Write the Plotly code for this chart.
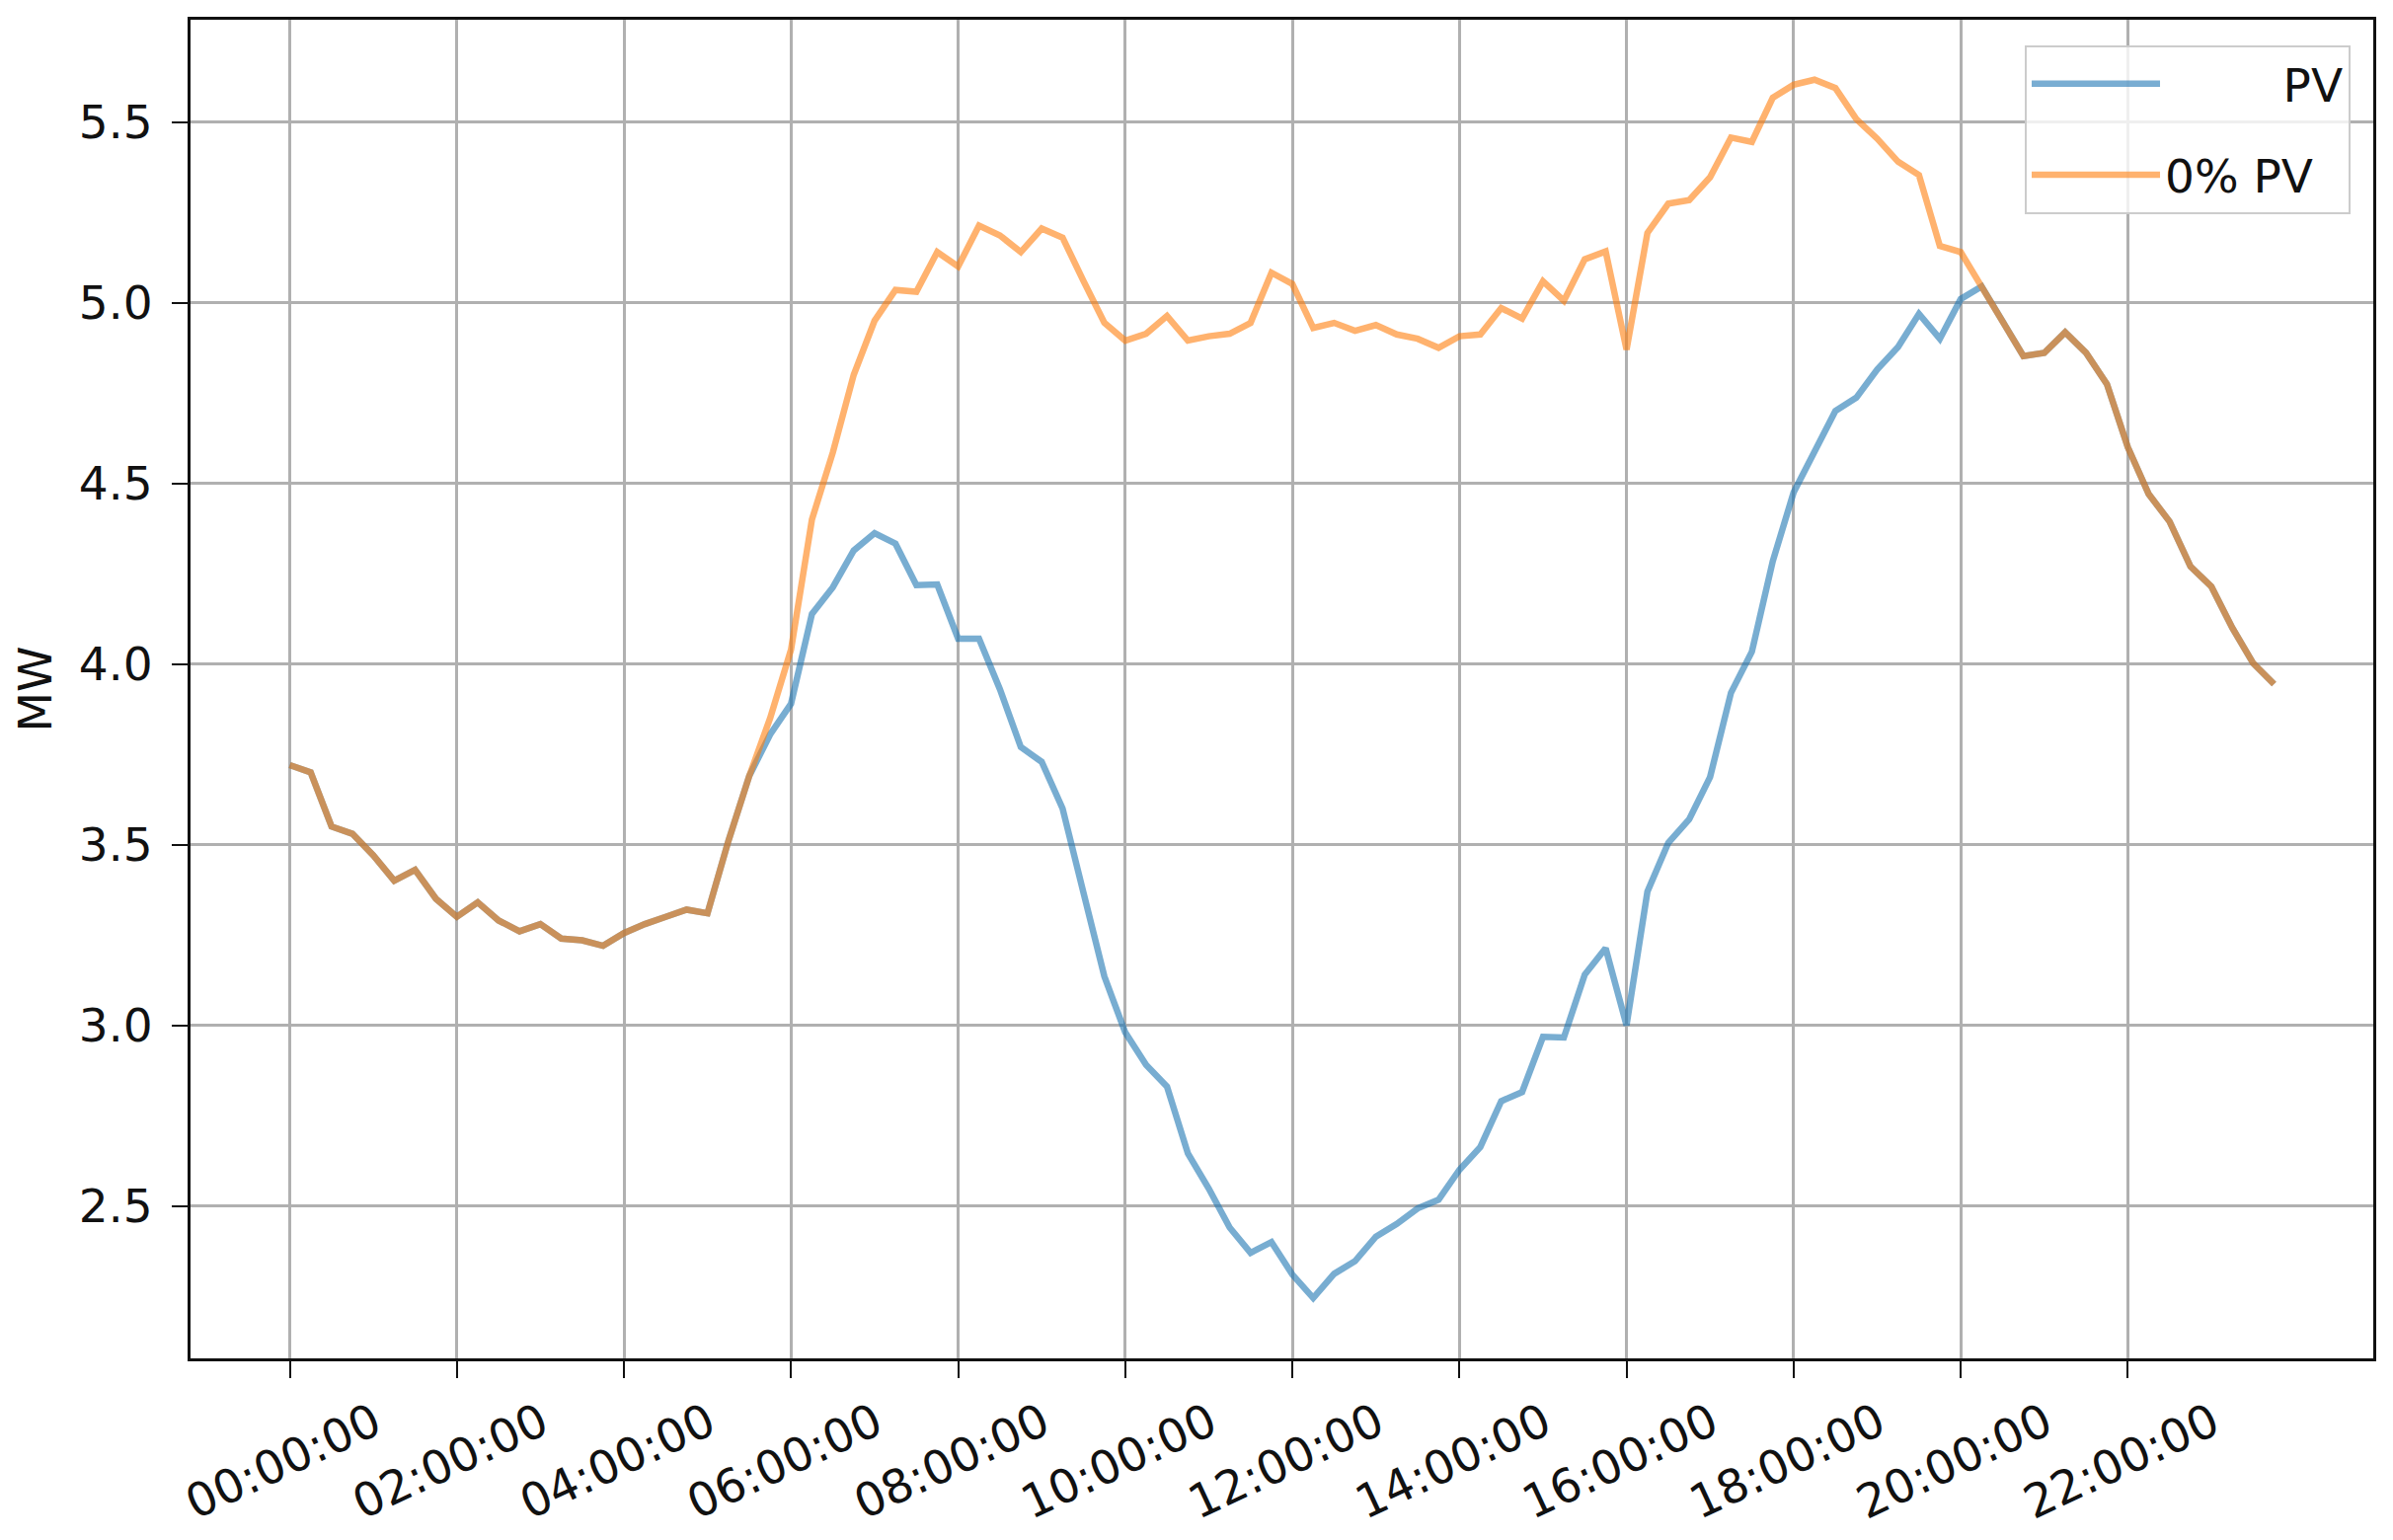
import plotly.graph_objects as go

# 15-minute time stamps over one day
times = [f"{h:02d}:{m:02d}:00" for h in range(24) for m in (0, 15, 30, 45)]

# Load with PV (MW)
pv_load = [
    3.72, 3.70, 3.55, 3.53, 3.47, 3.40, 3.43, 3.35, 3.30, 3.34, 3.29, 3.26,
    3.28, 3.24, 3.235, 3.22, 3.255, 3.28, 3.30, 3.32, 3.31, 3.51, 3.69, 3.805,
    3.89, 4.138, 4.212, 4.314, 4.362, 4.333, 4.218, 4.22, 4.07, 4.07, 3.93, 3.77,
    3.729, 3.60, 3.367, 3.135, 2.98, 2.89, 2.83, 2.645, 2.548, 2.44, 2.37, 2.40,
    2.31, 2.245, 2.312, 2.347, 2.415, 2.45, 2.493, 2.517, 2.60, 2.663, 2.79, 2.815,
    2.968, 2.966, 3.14, 3.213, 3.00, 3.37, 3.505, 3.57, 3.687, 3.92, 4.034, 4.284,
    4.475, 4.59, 4.70, 4.737, 4.815, 4.877, 4.969, 4.90, 5.01, 5.045, 4.951, 4.852,
    4.861, 4.918, 4.861, 4.774, 4.60, 4.47, 4.394, 4.27, 4.214, 4.10, 4.002, 3.944,
]

# Load with 0% PV (MW)
nopv_load = [
    3.72, 3.70, 3.55, 3.53, 3.47, 3.40, 3.43, 3.35, 3.30, 3.34, 3.29, 3.26,
    3.28, 3.24, 3.235, 3.22, 3.255, 3.28, 3.30, 3.32, 3.31, 3.51, 3.69, 3.85,
    4.04, 4.40, 4.585, 4.80, 4.95, 5.035, 5.03, 5.14, 5.10, 5.213, 5.186, 5.14,
    5.205, 5.18, 5.06, 4.944, 4.895, 4.914, 4.963, 4.895, 4.907, 4.914, 4.944, 5.083,
    5.052, 4.93, 4.944, 4.922, 4.938, 4.912, 4.90, 4.875, 4.907, 4.912, 4.985, 4.956,
    5.059, 5.005, 5.12, 5.142, 4.87, 5.193, 5.274, 5.284, 5.347, 5.457, 5.445, 5.567,
    5.603, 5.617, 5.594, 5.508, 5.454, 5.39, 5.353, 5.157, 5.14, 5.045, 4.951, 4.852,
    4.861, 4.918, 4.861, 4.774, 4.60, 4.47, 4.394, 4.27, 4.214, 4.10, 4.002, 3.944,
]

tick_labels = times[::8]
series_names = ["\u2007\u2007\u2007\u2007PV", "0% PV"]
series_colors = ["#1f77b4", "#ff7f0e"]

FONT = "DejaVu Sans"
FS = 47
fig = go.Figure()
for i, (name, vals, col) in enumerate(zip(series_names, [pv_load, nopv_load], series_colors)):
    fig.add_trace(go.Scatter(
        x=times, y=vals, mode="lines", name=name, legendgroup=f"g{i}",
        line=dict(color=col, width=6.5), opacity=0.6,
    ))

# the page body adds an 8px offset, so the figure is sized to fit the window
fig.update_layout(
    width=2416, height=1552,
    margin=dict(l=185, r=20, t=12, b=184),
    paper_bgcolor="white", plot_bgcolor="white",
    font=dict(family=FONT, size=FS, color="#111111"),
    showlegend=True,
    legend=dict(
        x=0.9896, y=0.981, xanchor="right", yanchor="top",
        bgcolor="rgba(255,255,255,0.8)", bordercolor="#cccccc", borderwidth=2,
        font=dict(family=FONT, size=FS, color="#111111"),
        itemwidth=130, tracegroupgap=28,
    ),
)
fig.update_xaxes(
    type="category", range=[-4.75, 99.75], automargin=False,
    tickmode="array", tickvals=tick_labels, ticktext=tick_labels,
    tickangle=-25, ticklabelshift=86,
    ticks="outside", ticklen=17, tickwidth=2, tickcolor="#111111",
    showgrid=True, gridcolor="#b0b0b0", gridwidth=2.5,
    showline=True, linecolor="#111111", linewidth=3, mirror=True,
    zeroline=False,
    tickfont=dict(family=FONT, size=FS, color="#111111"),
)
fig.update_yaxes(
    range=[2.078, 5.783], tick0=2.5, dtick=0.5, tickformat=".1f", automargin=False,
    ticks="outside", ticklen=16, tickwidth=2, tickcolor="#111111",
    ticklabelstandoff=10,
    showgrid=True, gridcolor="#b0b0b0", gridwidth=2.5,
    showline=True, linecolor="#111111", linewidth=3, mirror=True,
    zeroline=False,
    title=dict(text="MW", standoff=24, font=dict(family=FONT, size=FS, color="#111111")),
    tickfont=dict(family=FONT, size=FS, color="#111111"),
)

fig.write_html("out.html")
